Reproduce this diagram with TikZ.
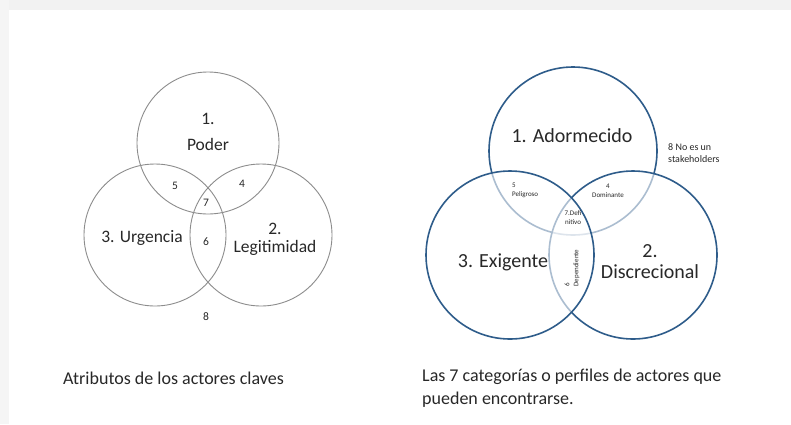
\documentclass[tikz,border=0pt]{standalone}
\usepackage{fontspec}
\setmainfont{Carlito}
\usepackage{xcolor}
\usetikzlibrary{positioning}

\definecolor{attrgray}{RGB}{140,140,140}
\definecolor{vennblue}{RGB}{46,92,138}
\definecolor{txtgray}{RGB}{40,40,40}

\begin{document}
\begin{tikzpicture}[
    x=1pt, y=-1pt,
    attr/.style={
      circle,
      draw=attrgray,
      line width=0.9pt,
      minimum size=142pt,
      inner sep=0pt
    },
    venn/.style={
      circle,
      draw=vennblue,
      line width=1.6pt,
      fill=white,
      fill opacity=0.6,
      minimum size=168pt,
      inner sep=0pt
    },
    label/.style={
      align=center,
      text=txtgray,
      inner sep=1pt
    },
    medium/.style={
      label,
      font=\fontsize{17.5}{20}\selectfont
    },
    small/.style={
      label,
      font=\fontsize{11.5}{13}\selectfont
    },
    tiny/.style={
      label,
      font=\fontsize{7}{9}\selectfont
    },
    caption/.style={
      align=left,
      text=txtgray,
      inner sep=0pt,
      font=\fontsize{18}{22.5}\selectfont
    }
  ]

    % Frame
    \useasboundingbox (0,0) rectangle (791,424);
    \fill[black!5] (0,0) rectangle (791,10);
    \fill[black!4] (0,0) rectangle (9,424);
    \fill[white] (9,10) rectangle (791,424);

    % Left diagram: attributes
    \node[attr] (poder) at (208,143) {};
    \node[attr] (urgencia) at (155,235) {};
    \node[attr] (legit) at (261,235) {};

    \node[medium, font=\fontsize{17.5}{26}\selectfont] (poderlbl) at (208,132) {1.\\Poder};
    \node[medium] (urglbl) at (142,238) {3. Urgencia};
    \node[medium, font=\fontsize{17.5}{18}\selectfont] (legitlbl) at (275,239) {2.\\Legitimidad};
    \node[small] (a5) at (175,186) {5};
    \node[small] (a4) at (242,184) {4};
    \node[small] (a7) at (206,203) {7};
    \node[small] (a6) at (206,242) {6};
    \node[small] (a8) at (206,317) {8};

    % Right diagram: categories
    \node[venn] (adorm) at (573,151) {};
    \node[venn] (discr) at (633,255) {};
    \node[venn] (exig) at (510,255) {};

    \node[label, font=\fontsize{20}{22}\selectfont] (adormlbl) at (572,136) {1. Adormecido};
    \node[label, font=\fontsize{20}{22}\selectfont] (exiglbl) at (503,262) {3. Exigente};
    \node[label, font=\fontsize{20}{21}\selectfont] (discrlbl) at (650,262) {2.\\Discrecional};
    \node[tiny, align=left, anchor=west] (peligroso) at (511,190) {5\\Peligroso};
    \node[tiny] (dominante) at (608,191) {4\\Dominante};
    \node[tiny] (definitivo) at (573,218) {7.Defi\\nitivo};
    \node[tiny, rotate=90, align=left] (dependiente) at (572,268) {6\\Dependiente};
    \node[label, align=left, anchor=west, font=\fontsize{10}{12.5}\selectfont] (nostake) at (667,153) {8 No es un\\stakeholders};

    % Captions
    \node[caption, anchor=west] (captionleft) at (63,378) {Atributos de los actores claves};
    \node[caption, anchor=north west] (captionright) at (422,369)
      {Las 7 categorías o perfiles de actores que\\pueden encontrarse.};

  \end{tikzpicture}
\end{document}
